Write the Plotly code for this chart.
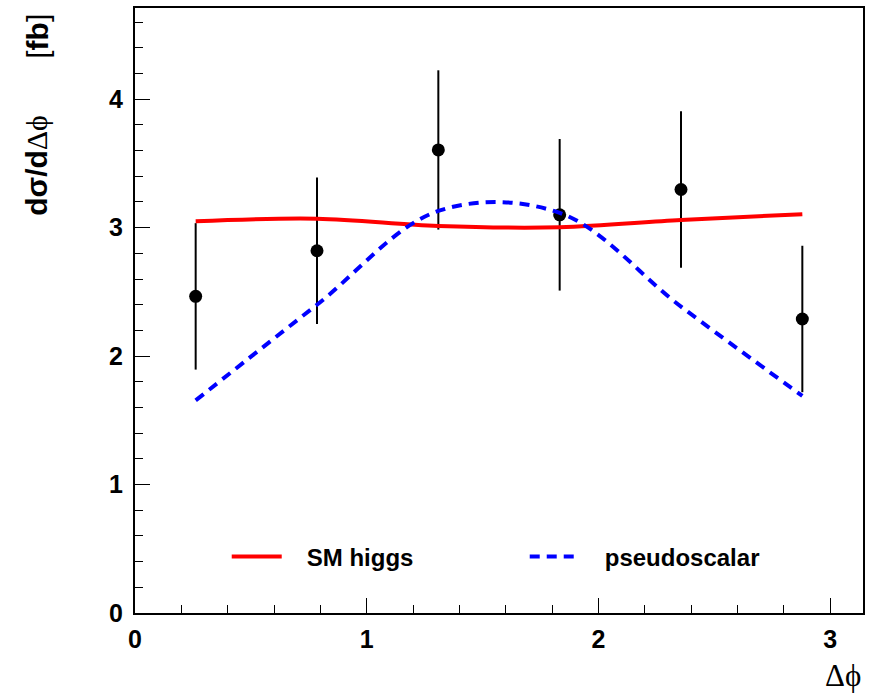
import math
import plotly.graph_objects as go

# Bin centres in delta-phi (6 bins over [0, pi])
dphi = [0.2618, 0.7854, 1.3090, 1.8326, 2.3562, 2.8798]

# Measured cross section and its uncertainty [fb]
data_xsec = [2.465, 2.820, 3.605, 3.100, 3.297, 2.289]
data_err = [0.57, 0.57, 0.62, 0.59, 0.61, 0.57]

# Model predictions at the bin centres [fb]
sm_higgs = [3.050, 3.070, 3.013, 3.003, 3.060, 3.105]
pseudoscalar = [1.655, 2.400, 3.130, 3.115, 2.385, 1.690]

FONT = "Liberation Sans"
SYM = "Liberation Serif"
PAD = "&nbsp;&nbsp;&nbsp;"

fig = go.Figure()

fig.add_trace(go.Scatter(
    x=dphi, y=data_xsec, mode="markers",
    marker=dict(color="black", size=13),
    error_y=dict(type="data", array=data_err, color="black", thickness=2, width=0),
    showlegend=False,
))
fig.add_trace(go.Scatter(
    x=dphi, y=sm_higgs, mode="lines", name=PAD + "SM higgs",
    line=dict(color="#ff0000", width=4, shape="spline"),
))
fig.add_trace(go.Scatter(
    x=dphi, y=pseudoscalar, mode="lines", name=PAD + "pseudoscalar",
    line=dict(color="#0000ff", width=4, shape="spline", dash="10px,7px"),
))

axis_common = dict(
    showline=True, linecolor="black", linewidth=2, mirror=True,
    showgrid=False, zeroline=False,
    ticks="inside", ticklen=15, tickwidth=1, tickcolor="black",
    dtick=1, tick0=0,
    tickfont=dict(family=FONT, size=25, color="black", weight="bold"),
    minor=dict(ticks="inside", ticklen=8, tickwidth=1, tickcolor="black", dtick=0.2, showgrid=False),
)

fig.update_xaxes(range=[0, math.pi], ticklabelstandoff=3, **axis_common)
fig.update_yaxes(range=[0, 4.71], ticklabelstandoff=5, **axis_common)

fig.update_layout(
    width=869, height=695,
    margin=dict(l=135, r=4, t=8, b=82),
    paper_bgcolor="white", plot_bgcolor="white",
    showlegend=True,
    legend=dict(
        orientation="h", x=0.126, y=0.0926, xanchor="left", yanchor="middle",
        bgcolor="rgba(0,0,0,0)", itemwidth=50,
        entrywidth=233, entrywidthmode="pixels",
        font=dict(family=FONT, size=24, color="black", weight="bold"),
    ),
    annotations=[
        dict(
            text="<b>dσ/d</b><span style='font-family:Liberation Serif'>Δϕ</span>",
            xref="paper", yref="paper", x=-0.135, y=0.7405,
            xanchor="center", yanchor="middle", textangle=-90, showarrow=False,
            font=dict(family=FONT, size=30, color="black"),
        ),
        dict(
            text="[<b>fb</b>]",
            xref="paper", yref="paper", x=-0.135, y=0.9537,
            xanchor="center", yanchor="middle", textangle=-90, showarrow=False,
            font=dict(family=FONT, size=30, color="black"),
        ),
        dict(
            text="Δϕ",
            xref="paper", yref="paper", x=0.9726, y=-0.1025,
            xanchor="center", yanchor="middle", showarrow=False,
            font=dict(family=SYM, size=31, color="black"),
        ),
    ],
)

fig.write_html("out.html")
